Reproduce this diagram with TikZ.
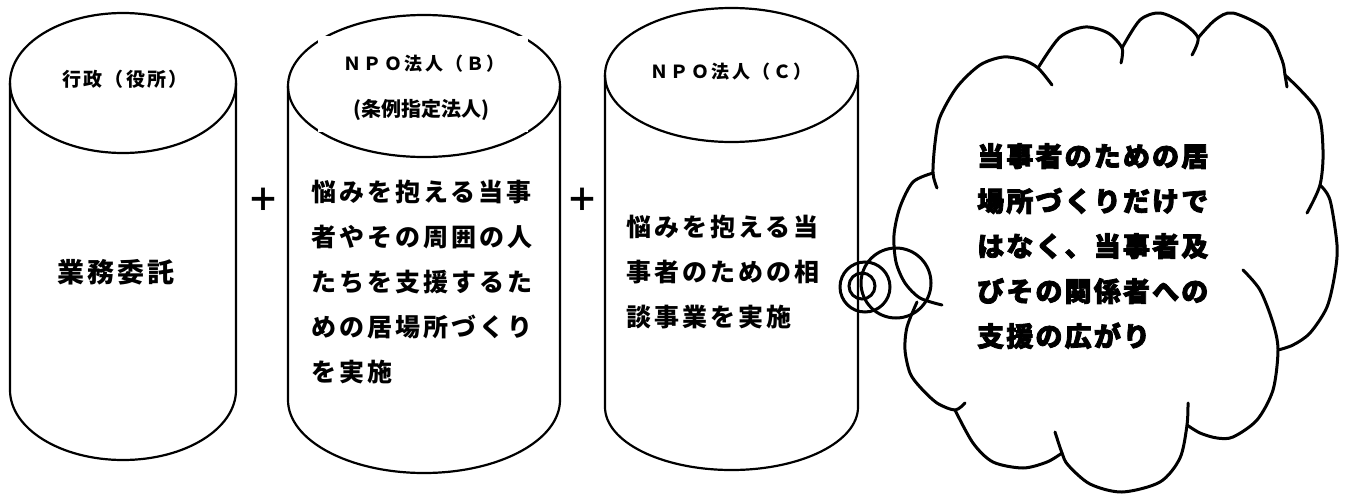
\documentclass[tikz,border=0pt]{standalone}
\usepackage{fontspec}
\newfontfamily\jp{Noto Sans CJK JP}
\newfontfamily\jpsp{Noto Sans CJK JP}[LetterSpace=12]
\newfontfamily\jphd{Noto Sans CJK JP}[LetterSpace=14]
\newfontfamily\jpcl{Noto Sans CJK JP}[LetterSpace=8,BoldFeatures={FakeBold=3}]
\begin{document}
\begin{tikzpicture}[x=1pt,y=-1pt,
  cyl/.style={line width=2.2pt,line join=round},
  cloudline/.style={line width=3pt,line cap=round},
  body/.style={font=\jpsp\bfseries\fontsize{25}{45}\selectfont,align=left,inner sep=0pt,anchor=north west},
  head/.style={font=\jphd\bfseries\fontsize{18}{18}\selectfont,inner sep=0pt}]
\useasboundingbox (0,0) rectangle (1346,493);
% cylinder A
\draw[cyl] (123,83) ellipse [x radius=113pt,y radius=70pt];
\draw[cyl] (10,83) -- (10,390) arc[start angle=180,end angle=360,x radius=113pt,y radius=70pt] -- (236,83);
% cylinder B
\draw[cyl] (424,86) ellipse [x radius=136pt,y radius=71pt];
\draw[cyl] (288,86) -- (288,400) arc[start angle=180,end angle=360,x radius=136pt,y radius=73pt] -- (560,86);
% cylinder C
\draw[cyl] (731.5,75) ellipse [x radius=126.5pt,y radius=67pt];
\draw[cyl] (605,75) -- (605,407) arc[start angle=180,end angle=360,x radius=126.5pt,y radius=63pt] -- (858,75);
% head box of B
\node[fill=white,minimum width=210pt,minimum height=96pt,inner sep=0pt] (bbox) at (423,84) {};
% texts
\node[font=\jpsp\bfseries\fontsize{19}{19}\selectfont,inner sep=0pt] (gyosei) at (125,79) {行政（役所）};
\node[font=\jpsp\bfseries\fontsize{27}{27}\selectfont,inner sep=0pt] (itaku) at (116,272) {業務委託};
\node[head] (npob) at (424,64) {ＮＰＯ法人（Ｂ）};
\node[font=\jp\bfseries\fontsize{20}{20}\selectfont,inner sep=0pt] (jorei) at (421,110) {(条例指定法人)};
\node[head] (npoc) at (731,72) {ＮＰＯ法人（Ｃ）};
\node[body] (bbody) at (311,180) {悩みを抱える当事\\者やその周囲の人\\たちを支援するた\\めの居場所づくり\\を実施};
\node[body] (cbody) at (626,215) {悩みを抱える当\\事者のための相\\談事業を実施};
\node[font=\jp\bfseries\fontsize{32}{32}\selectfont,inner sep=0pt] (plus1) at (263,200) {＋};
\node[font=\jp\bfseries\fontsize{32}{32}\selectfont,inner sep=0pt] (plus2) at (582,200) {＋};
% thought circles
\draw[cloudline] (862,286) circle[radius=13pt];
\draw[cloudline] (865,287) circle[radius=25pt];
\draw[cloudline] (896,283) circle[radius=35pt];
% cloud lobes
\draw[cloudline] plot[smooth] coordinates {(937,188) (933,173) (935,143) (940,117) (957,87) (980,65) (1003,57) (1023,60) (1038,68) (1052,85)};
\draw[cloudline] plot[smooth] coordinates {(1038,68) (1060,37) (1085,27) (1108,33) (1122,48) (1121,63)};
\draw[cloudline] plot[smooth] coordinates {(1122,48) (1140,20) (1160,13) (1183,23) (1198,38) (1192,55)};
\draw[cloudline] plot[smooth] coordinates {(1198,38) (1215,20) (1233,13) (1267,30) (1282,60) (1285,75) (1287,87)};
\draw[cloudline] plot[smooth] coordinates {(1285,75) (1317,110) (1323,150) (1320,185) (1307,213)};
\draw[cloudline] plot[smooth] coordinates {(1320,185) (1330,200) (1337,245) (1335,273) (1327,307) (1310,333) (1293,345) (1278,350)};
\draw[cloudline] plot[smooth] coordinates {(1243,270) (1260,290) (1273,323) (1278,350) (1273,390) (1257,420) (1233,437) (1217,438) (1200,433) (1187,425)};
\draw[cloudline] plot[smooth] coordinates {(1188,403) (1187,425) (1180,458) (1160,482) (1122,492) (1090,484) (1068,465) (1062,453) (1055,432)};
\draw[cloudline] plot[smooth] coordinates {(955,410) (973,443) (993,462) (1023,468) (1047,462) (1062,453)};
\draw[cloudline] plot[smooth] coordinates {(917,302) (907,327) (905,350) (910,373) (920,387) (937,403) (955,410) (965,403)};
\draw[cloudline] plot[smooth] coordinates {(933,173) (913,182) (900,207) (894,235) (896,262) (905,283) (920,298) (942,305)};
\node[font=\jpcl\bfseries\fontsize{27}{45}\selectfont,align=left,inner sep=0pt,anchor=north west] (cloudtext) at (977,143) {当事者のための居\\場所づくりだけで\\はなく、当事者及\\びその関係者への\\支援の広がり};
\end{tikzpicture}
\end{document}
